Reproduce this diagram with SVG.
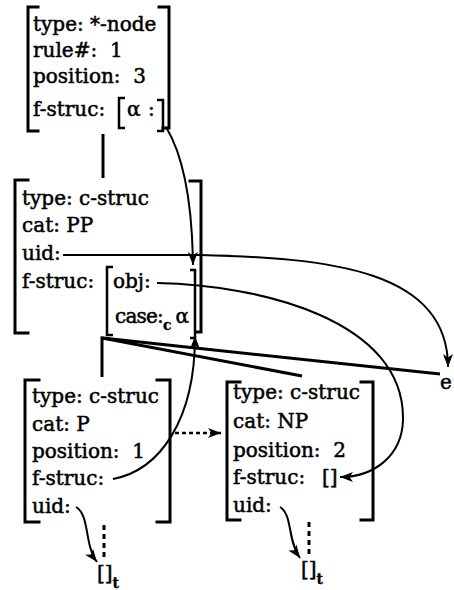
<svg xmlns="http://www.w3.org/2000/svg" width="454" height="590" viewBox="0 0 454 590">
<defs>
<style>
text{font-family:"DejaVu Serif","Liberation Serif",serif;font-size:20px;fill:#000;stroke:#000;stroke-width:0.5;white-space:pre}
.sub{font-size:14px;font-weight:bold;stroke-width:0.3}
.b{fill:none;stroke:#000;stroke-width:3;stroke-linecap:square}
.ib{fill:none;stroke:#000;stroke-width:2.5}
.tree{fill:none;stroke:#000;stroke-width:3}
.c{fill:none;stroke:#000;stroke-width:2}
.dash{fill:none;stroke:#000;stroke-width:3;stroke-dasharray:5 4}
.dot{fill:none;stroke:#000;stroke-width:2.5;stroke-dasharray:4 3}
</style>
<marker id="ah" markerUnits="userSpaceOnUse" markerWidth="14" markerHeight="12" refX="13" refY="5" orient="auto" viewBox="0 0 14 10">
<path d="M0,0 L13,5 L0,10 L3.5,5 z" fill="#000"/>
</marker>
</defs>
<rect width="454" height="590" fill="#fff"/>

<g id="n1">
<path class="b" d="M38,7 H28 V131 H38"/>
<path class="b" d="M159,7 H169 V128 H163"/>
<text x="33" y="31">type: *-node</text>
<text x="33" y="57" xml:space="preserve">rule#:  1</text>
<text x="33" y="83" xml:space="preserve">position:  3</text>
<text x="33" y="116">f-struc:</text>
<path class="ib" d="M125,98 H119 V128 H125"/>
<text x="127" y="116">α</text>
<text x="148" y="116">:</text>
<path class="ib" d="M157,100 H163 V131 H157"/>
</g>

<g id="n2">
<path class="b" d="M28,180 H15 V333 H28"/>
<path class="b" d="M190,181 H201 V332 H196"/>
<text x="22" y="205">type: c-struc</text>
<text x="22" y="232">cat: PP</text>
<text x="22" y="260">uid:</text>
<text x="22" y="288">f-struc:</text>
<path class="ib" d="M113,267 H107 V335 H113"/>
<text x="113" y="288">obj:</text>
<text x="115" y="323"><tspan style="letter-spacing:-0.8px">case:</tspan><tspan class="sub" dy="7">c</tspan><tspan dx="4" dy="-7">α</tspan></text>
<path class="ib" d="M190,270 H195 V338 H190"/>
</g>

<g id="nP">
<path class="b" d="M39,380 H25 V522 H39"/>
<path class="b" d="M157,380 H170 V522 H157"/>
<text x="32" y="403">type: c-struc</text>
<text x="32" y="431">cat: P</text>
<text x="32" y="458" xml:space="preserve">position:  1</text>
<text x="32" y="485">f-struc:</text>
<text x="32" y="513">uid:</text>
</g>

<g id="nNP">
<path class="b" d="M240,382 H227 V520 H240"/>
<path class="b" d="M361,382 H373 V520 H361"/>
<text x="233" y="399">type: c-struc</text>
<text x="233" y="428">cat: NP</text>
<text x="233" y="457" xml:space="preserve">position:  2</text>
<text x="233" y="484">f-struc:</text>
<text x="322" y="484">[]</text>
<text x="233" y="512">uid:</text>
</g>

<g id="e">
<text x="440" y="389">e</text>
</g>

<g id="t1">
<text x="97" y="580">[]<tspan class="sub" dy="8">t</tspan></text>
</g>

<g id="t2">
<text x="301" y="576">[]<tspan class="sub" dy="8">t</tspan></text>
</g>

<g id="connectors">
<path class="tree" d="M103,134 V178"/>
<path class="tree" d="M102,377 V338 L440,374"/>
<path class="tree" d="M102,338 L302,376"/>
<path class="c" d="M166,127 C180,150 192,190 193,265" marker-end="url(#ah)"/>
<path class="c" d="M63,255 L200,255 C330,258 448,270 448,367" marker-end="url(#ah)"/>
<path class="c" d="M157,283 C260,285 405,320 403,420 C402,455 375,477 340,477" marker-end="url(#ah)"/>
<path class="c" d="M113,479 C160,470 195,420 195,336" marker-end="url(#ah)"/>
<path class="dot" d="M175,433 H221" marker-end="url(#ah)"/>
<path class="c" d="M76,507 C90,515 84,545 97,562" marker-end="url(#ah)"/>
<path class="c" d="M280,507 C293,515 287,540 300,558" marker-end="url(#ah)"/>
<path class="dash" d="M104,525 V560"/>
<path class="dash" d="M309,522 V557"/>
</g>
</svg>
